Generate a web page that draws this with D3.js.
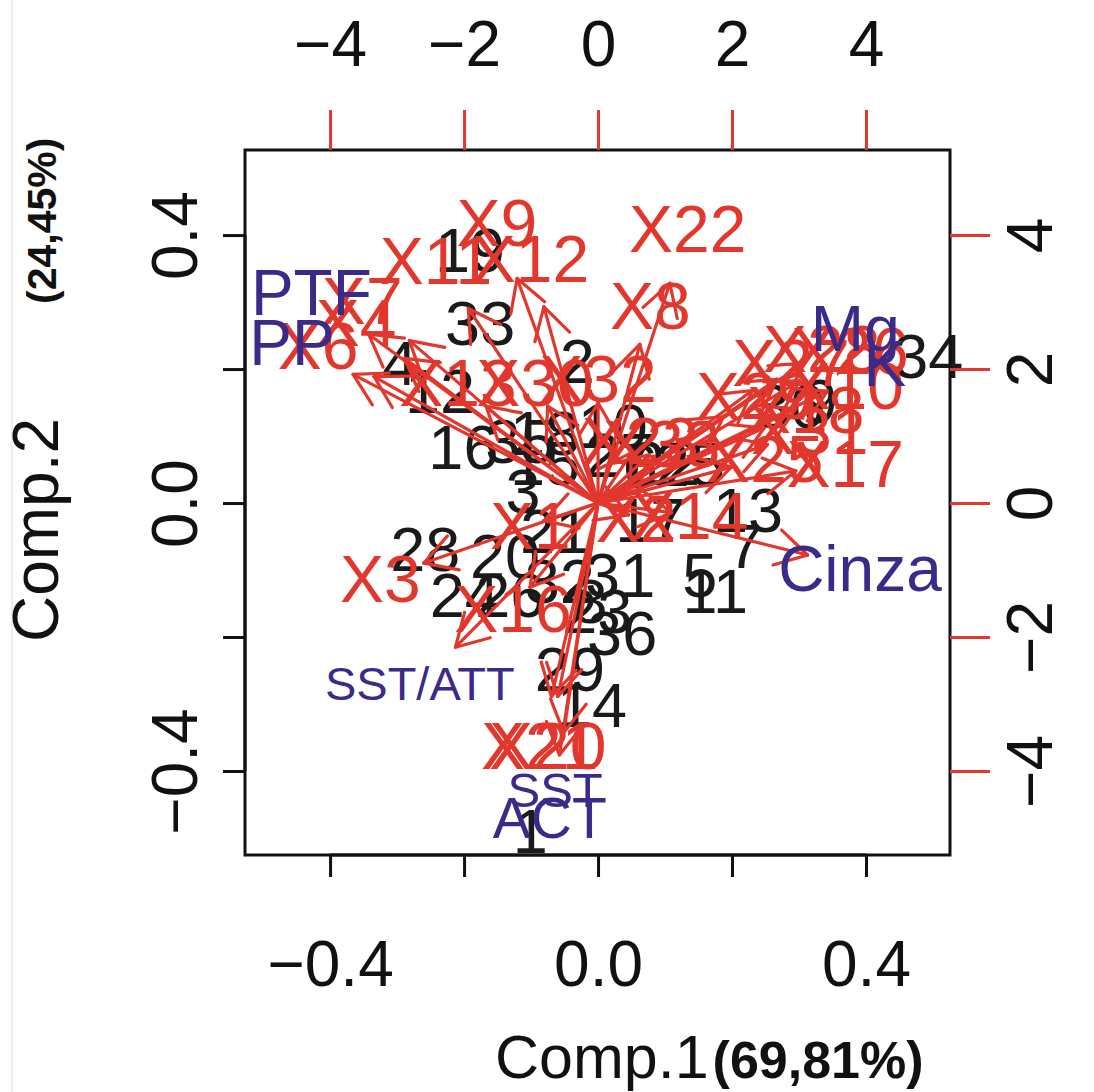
<!DOCTYPE html>
<html><head><meta charset="utf-8">
<script src="https://cdn.jsdelivr.net/npm/d3@7"></script>
<style>body{margin:0;background:#fff}text{font-family:"Liberation Sans",Arial,sans-serif}</style>
</head><body><svg id="c" width="1094" height="1092"></svg>
<script>
// ---- data ----
const obsLabels = ["1","2","3","4","5","6","7","8","9","10","11","12","13","14","15","16","17","18","19","20","21","22","23","24","25","26","27","28","29","30","31","32","33","34","35","36"];
const obsComp1 = [-0.101,-0.031,-0.112,-0.296,0.152,0.063,0.219,-0.012,0.331,0.022,0.175,-0.236,0.224,-0.009,-0.079,-0.201,0.078,-0.079,-0.191,-0.139,-0.064,0.100,-0.001,-0.199,0.137,-0.131,0.033,-0.258,-0.042,0.287,0.033,-0.057,-0.176,0.493,-0.116,0.036];
const obsComp2 = [-0.488,0.213,0.019,0.210,-0.107,0.057,-0.063,-0.145,0.154,0.116,-0.130,0.169,-0.010,-0.301,0.061,0.084,-0.025,0.106,0.378,-0.078,-0.040,0.061,-0.160,-0.137,0.060,-0.137,0.072,-0.067,-0.246,0.146,-0.107,-0.115,0.270,0.221,0.094,-0.193];

const varNames = ["X22","X9","X12","X11","X7","X4","X6","X13","X30","X32","X8","X23","X2","X14","X1","X3","X16","X20","X21","X17","X31","X25","X10","X28","X26","X29","X27","X33","X18","PTF","PP","Mg","K","Cinza","SST/ATT","SST","ACT"];
const varComp1 = [1.34,-1.51,-1.01,-2.42,-3.52,-3.61,-4.18,-2.09,-0.94,0.00,0.78,0.63,0.57,1.37,-1.01,-3.25,-1.27,-0.75,-0.87,3.69,3.16,2.49,3.69,3.34,3.76,2.34,2.88,0.95,3.10,-4.28,-4.57,3.84,4.28,3.91,-2.66,-0.64,-0.72];
const varComp2 = [4.10,4.19,3.66,3.63,3.03,2.70,2.36,1.81,1.81,1.87,2.96,0.94,-0.22,-0.18,-0.33,-1.12,-1.57,-3.61,-3.61,0.60,1.09,0.67,1.76,2.31,2.28,1.61,2.10,0.90,1.40,3.15,2.40,2.61,2.09,-0.97,-2.69,-4.28,-4.70];
const soilVars = ["PTF","PP","Mg","K","Cinza","SST/ATT","SST","ACT"];

const bottomTicks = [-0.4,-0.2,0.0,0.2,0.4];
const bottomLabels = ["\u22120.4","","0.0","","0.4"];
const topTicks = [-4,-2,0,2,4];
const topLabels = ["\u22124","\u22122","0","2","4"];
const xTitle = "Comp.1", xPct = "(69,81%)";
const yTitle = "Comp.2", yPct = "(24,45%)";

// ---- layout ----
const svg = d3.select("#c");
const L = 245, R = 950, T = 150, B = 855;
const x = d3.scaleLinear().domain([-0.527, 0.5254]).range([L, R]);
const y = d3.scaleLinear().domain([-0.5254, 0.527]).range([B, T]);
const x2 = d3.scaleLinear().domain([-5.27, 5.254]).range([L, R]);
const y2 = d3.scaleLinear().domain([-5.254, 5.27]).range([B, T]);
const RED = "#e2372d", BLUE = "#3b2a8a", FS = 63, AFS = 64;
const FF = "Liberation Sans, Arial, sans-serif";

svg.append("line").attr("x1",12).attr("x2",12).attr("y1",0).attr("y2",1092).attr("stroke","#dcdcdc").attr("stroke-width",1);

// observations
svg.append("g").selectAll("text").data(obsLabels).join("text")
  .attr("x",(d,i)=>x(obsComp1[i])).attr("y",(d,i)=>y(obsComp2[i])).attr("dy","0.36em")
  .attr("text-anchor","middle").attr("font-size",FS).attr("fill","#1a1a1a").text(d=>d);

// arrows
const ag = svg.append("g").attr("stroke",RED).attr("stroke-width",3.2).attr("fill","none").attr("stroke-linecap","round");
varNames.forEach((n,i)=>{
  const x0 = x2(0), y0 = y2(0);
  const x1 = x2(varComp1[i]*0.8), y1 = y2(varComp2[i]*0.8);
  ag.append("line").attr("x1",x0).attr("y1",y0).attr("x2",x1).attr("y2",y1);
  const a = Math.atan2(y1-y0, x1-x0), hl = 36, ang = Math.PI/6;
  [a+Math.PI-ang, a+Math.PI+ang].forEach(b=>{
    ag.append("line").attr("x1",x1).attr("y1",y1).attr("x2",x1+hl*Math.cos(b)).attr("y2",y1+hl*Math.sin(b));
  });
});
// variable labels
svg.append("g").selectAll("text").data(varNames).join("text")
  .attr("x",(d,i)=>x2(varComp1[i])).attr("y",(d,i)=>y2(varComp2[i])).attr("dy","0.36em")
  .attr("text-anchor","middle")
  .attr("font-size",d=> d==="SST/ATT"?47 : d==="SST"?49 : d==="ACT"?57 : soilVars.includes(d)?64 : 66)
  .attr("fill",d=>soilVars.includes(d)?BLUE:RED).text(d=>d);

// box
svg.append("rect").attr("x",L).attr("y",T).attr("width",R-L).attr("height",B-T).attr("fill","none").attr("stroke","#111").attr("stroke-width",3);

// bottom axis
const bAx = svg.append("g").attr("transform",`translate(0,${B})`)
  .call(d3.axisBottom(x).tickValues(bottomTicks).tickSize(22).tickFormat((d,i)=>bottomLabels[i]));
bAx.select(".domain").attr("stroke","#111").attr("stroke-width",3).attr("d",`M${x(-0.4)},0H${x(0.4)}`);
bAx.selectAll(".tick line").attr("stroke","#111").attr("stroke-width",3);
bAx.selectAll(".tick text").attr("font-size",AFS).attr("fill","#111").attr("y",131).attr("dy",0).attr("font-family",FF);
// left axis
const lAx = svg.append("g").attr("transform",`translate(${L},0)`)
  .call(d3.axisLeft(y).tickValues(bottomTicks).tickSize(22).tickFormat((d,i)=>bottomLabels[i]));
lAx.select(".domain").attr("stroke","#111").attr("stroke-width",3).attr("d",`M0,${y(-0.4)}V${y(0.4)}`);
lAx.selectAll(".tick line").attr("stroke","#111").attr("stroke-width",3);
lAx.selectAll(".tick text").attr("font-size",AFS).attr("fill","#111").attr("x",0).attr("dy",0)
  .attr("text-anchor","middle").attr("transform","translate(-48,0) rotate(-90)").attr("font-family",FF);
// top axis
const tAx = svg.append("g").attr("transform",`translate(0,${T})`)
  .call(d3.axisTop(x2).tickValues(topTicks).tickSize(40).tickFormat((d,i)=>topLabels[i]));
tAx.select(".domain").attr("stroke","none");
tAx.selectAll(".tick line").attr("stroke",RED).attr("stroke-width",3);
tAx.selectAll(".tick text").attr("font-size",AFS).attr("fill","#111").attr("y",-84).attr("dy",0).attr("font-family",FF);
// right axis
const rAx = svg.append("g").attr("transform",`translate(${R},0)`)
  .call(d3.axisRight(y2).tickValues(topTicks).tickSize(40).tickFormat((d,i)=>topLabels[i]));
rAx.select(".domain").attr("stroke","none");
rAx.selectAll(".tick line").attr("stroke",RED).attr("stroke-width",3);
rAx.selectAll(".tick text").attr("font-size",AFS).attr("fill","#111").attr("x",0).attr("dy",0)
  .attr("text-anchor","middle").attr("transform","translate(102,0) rotate(-90)").attr("font-family",FF);

// titles
const xt = svg.append("text").attr("x",495).attr("y",1078).attr("font-size",61).attr("fill","#111");
xt.append("tspan").text(xTitle);
xt.append("tspan").attr("font-weight","bold").attr("font-size",52).attr("dx",4).text(xPct);
svg.append("text").attr("transform","translate(58,642) rotate(-90)").attr("font-size",AFS).attr("fill","#111").text(yTitle);
svg.append("text").attr("transform","translate(56,304) rotate(-90)").attr("font-size",41).attr("font-weight","bold").attr("fill","#111").text(yPct);
</script></body></html>
